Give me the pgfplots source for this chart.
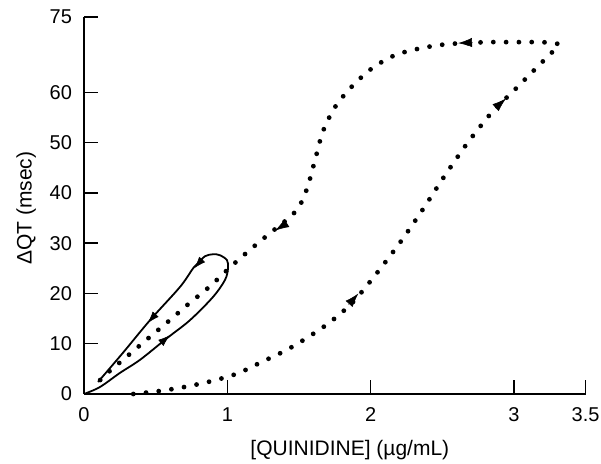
\documentclass[border=0pt]{standalone}
\usepackage{fontspec}
\setmainfont{Liberation Sans}
\usepackage{pgfplots}
\pgfplotsset{compat=1.18}
\usetikzlibrary{arrows.meta}

\begin{document}
\begin{tikzpicture}
\begin{axis}[
  scale only axis, width=250.8pt, height=188.5pt,
  xmin=0, xmax=3.5, ymin=0, ymax=75,
  axis x line*=bottom, axis y line*=left,
  axis line style={line width=1pt, -},
  xtick={0,1,2,3,3.5}, xticklabels={0,1,2,3,3.5},
  ytick={0,10,20,30,40,50,60,75},
  tick align=inside,
  major tick length=7pt,
  tick style={line width=0.75pt, black},
  /pgf/number format/assume math mode=true,
  ticklabel style={font=\fontsize{10}{12}\selectfont},
  xticklabel style={yshift=-3.2pt},
  yticklabel style={xshift=-2.5pt},
  xlabel={[QUINIDINE] (µg/mL)},
  ylabel={ΔQT (msec)},
  label style={font=\fontsize{10.5}{12}\selectfont},
  xlabel style={at={([yshift=-31pt]axis description cs:0.530,0)}, anchor=base},
  ylabel style={at={([xshift=-26.2pt]axis description cs:0,0.493)}, anchor=base},
  clip=false,
]
\coordinate (O) at (rel axis cs:0,0);

% dotted hysteresis curve
\addplot[no markers, smooth, tension=0.5, line width=2.4pt, line cap=round,
  dash pattern=on 0pt off 6.4pt]
coordinates {
(0.344,0) (0.530,0.6) (0.712,1.45) (0.895,2.6) (1.073,4.1) (1.242,6.4)
(1.410,8.7) (1.563,11.3) (1.717,14.3) (1.877,18.3) (2.045,24.1) (2.212,30.4)
(2.366,36.8) (2.519,43.5) (2.680,50.1) (2.854,56.3) (2.987,60.0) (3.119,63.8)
(3.252,67.6) (3.315,69.4) (3.273,69.8) (3.182,70.0) (2.994,70.0) (2.812,70.0)
(2.673,69.8) (2.533,69.6) (2.352,68.8) (2.170,67.4) (2.010,64.8) (1.870,61.2)
(1.752,57.1) (1.668,52.3) (1.619,47.3) (1.570,42.1) (1.542,39.8) (1.500,37.2)
(1.438,35.2) (1.368,33.6) (1.221,30.2) (1.082,26.8) (1.012,25.0) (0.874,21.3)
(0.733,18.0) (0.591,14.5) (0.449,11.1) (0.305,7.6) (0.165,4.2) (0.100,2.4)
};
% direction arrows on dotted curve
\addplot[no markers, line width=0.3pt, -{Latex[length=7pt,width=4.6pt]}] coordinates {(1.846,17.8) (1.915,20.0)};
\addplot[no markers, line width=0.3pt, -{Latex[length=7pt,width=4.6pt]}] coordinates {(2.870,56.9) (2.945,58.8)};
\addplot[no markers, line width=0.3pt, -{Latex[length=7pt,width=4.6pt]}] coordinates {(2.71,69.93) (2.61,69.8)};
\addplot[no markers, line width=0.3pt, -{Latex[length=7pt,width=4.6pt]}] coordinates {(1.413,33.95) (1.333,32.5)};

% solid loop
\addplot[no markers, smooth, tension=0.55, line width=0.9pt]
coordinates {
(0,0) (0.112,1.4) (0.251,4.2) (0.391,6.8) (0.579,11.1) (0.740,14.7)
(0.900,19.3) (0.984,22.7) (1.005,25.0) (0.998,26.6) (0.949,27.6) (0.900,27.8)
(0.844,27.4) (0.796,26.0) (0.761,25.0) (0.670,21.3) (0.461,14.7) (0.272,8.2)
(0.098,2.4)
};
% direction arrows on solid loop
\addplot[no markers, line width=0.3pt, -{Latex[length=6pt,width=4pt]}] coordinates {(0.530,10.0) (0.600,11.7)};
\addplot[no markers, line width=0.3pt, -{Latex[length=6pt,width=4pt]}] coordinates {(0.829,26.9) (0.768,25.0)};
\addplot[no markers, line width=0.3pt, -{Latex[length=6pt,width=4pt]}] coordinates {(0.504,16.0) (0.444,14.1)};
\end{axis}
\pgfresetboundingbox
\path[use as bounding box] ([shift={(-42pt,-35pt)}]O) rectangle ++(300.5pt,232pt);
\end{tikzpicture}
\end{document}
